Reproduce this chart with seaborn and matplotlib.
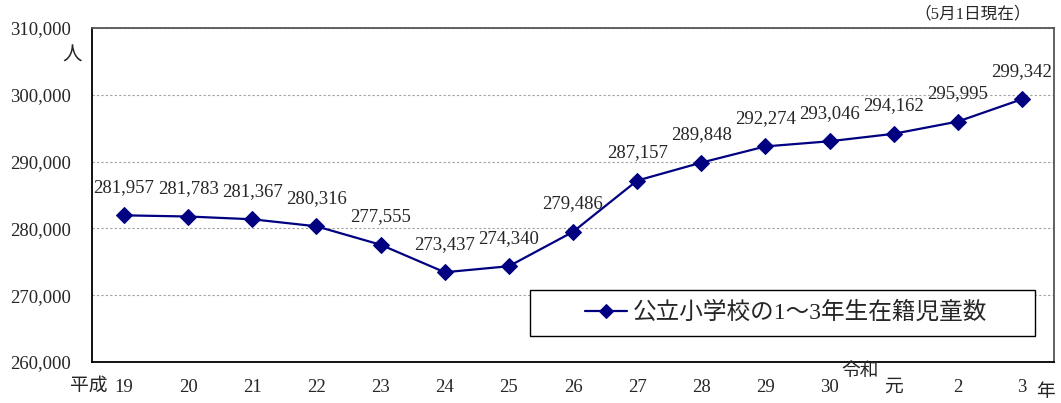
import numpy as np
import pandas as pd
import matplotlib
matplotlib.use('Agg')
import matplotlib.pyplot as plt
import matplotlib.patches as mpatches
import seaborn as sns

# 公立小学校の1～3年生在籍児童数（5月1日現在）
years = ['19', '20', '21', '22', '23', '24', '25', '26', '27', '28', '29', '30', '元', '2', '3']
counts = [281957, 281783, 281367, 280316, 277555, 273437, 274340, 279486,
          287157, 289848, 292274, 293046, 294162, 295995, 299342]
series_name = '公立小学校の1～3年生在籍児童数'
yticks = [260000, 270000, 280000, 290000, 300000, 310000]

sns.set_style('white')
plt.rcParams['font.family'] = ['Liberation Serif', 'Noto Sans CJK JP', 'DejaVu Sans']

df = pd.DataFrame({'pos': np.arange(len(years)), 'count': counts})

fig = plt.figure(figsize=(10.61, 4.03), dpi=100)
ax = fig.add_axes([0.0867, 0.1017, 0.9067, 0.8288])

navy = '#000080'
sns.lineplot(data=df, x='pos', y='count', ax=ax, color=navy, marker='D',
             markersize=8.5, markeredgecolor=navy, linewidth=1.6, label=series_name)

for x, v in zip(df['pos'], df['count']):
    ax.annotate(f'{v:,}', (x, v), xytext=(0, 20), textcoords='offset points',
                ha='center', va='center', fontsize=13.5)

ax.set_xlim(-0.5, len(years) - 0.5)
ax.set_ylim(260000, 310000)
ax.set_yticks(yticks)
ax.set_yticklabels([f'{t:,}' for t in yticks], fontsize=13.5)
ax.yaxis.grid(True, color='#a0a0a0', linestyle=(0, (2, 2)), linewidth=0.8)

ax.set_xticks(np.arange(len(years)))
ax.set_xticklabels(years, fontsize=13.5)
ax.set_xticks(np.arange(-0.5, len(years)), minor=True)
ax.tick_params(axis='x', which='major', length=0, pad=12)
ax.tick_params(axis='x', which='minor', length=8, direction='inout', width=1, color='black')
ax.tick_params(axis='y', which='major', length=5, direction='in', width=1, color='black', pad=15)
ax.set_xlabel('')
ax.set_ylabel('')

for side in ['left', 'bottom']:
    ax.spines[side].set_color('black')
    ax.spines[side].set_linewidth(1.3)
for side in ['top', 'right']:
    ax.spines[side].set_color('#555555')
    ax.spines[side].set_linewidth(1.3)

fig.text(0.068, 0.862, '人', fontsize=14, ha='center', va='center')
fig.text(0.084, 0.042, '平成', fontsize=13.5, ha='center', va='center')
fig.text(0.811, 0.077, '令和', fontsize=13.5, ha='center', va='center')
fig.text(0.985, 0.027, '年', fontsize=13.5, ha='center', va='center')
fig.text(0.917, 0.965, '（5月1日現在）', fontsize=12, ha='center', va='center')

# legend box (wide frame like the original)
box = mpatches.Rectangle((0.455, 0.078), 0.525, 0.138, transform=ax.transAxes,
                         facecolor='white', edgecolor='black', linewidth=1.0, zorder=5)
ax.add_patch(box)
leg = ax.legend(loc='center left', bbox_to_anchor=(0.512, 0.147), fontsize=17,
                frameon=False, borderpad=0, borderaxespad=0,
                handlelength=1.8, handletextpad=0.25, markerscale=0.85)
leg.set_zorder(6)

fig.savefig('out.png', dpi=100)
